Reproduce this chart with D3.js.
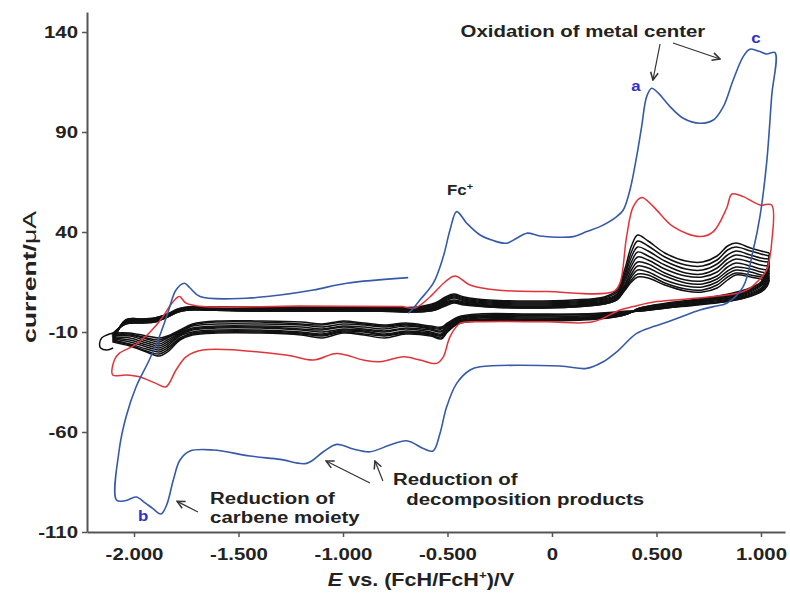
<!DOCTYPE html>
<html>
<head>
<meta charset="utf-8">
<script src="https://cdn.jsdelivr.net/npm/d3@7"></script>
<style>
  body { margin: 0; background: #fff; }
  svg { display: block; font-family: "Liberation Sans", Arial, sans-serif; }
</style>
</head>
<body>
<svg id="chart" width="790" height="596"></svg>
<script>
// axis ticks
const xTicks = [-2, -1.5, -1, -0.5, 0, 0.5, 1];
const yTicks = [-110, -60, -10, 40, 90, 140];

// first cycle (blue), [E / V, current / uA]
const cycle1 = [
  [-0.688, -0.6], [-0.671, 1.0], [-0.632, 6.0], [-0.568, 14.4], [-0.520, 27.7], [-0.488, 41], [-0.456, 50.2],
  [-0.408, 44.4], [-0.344, 38.5], [-0.281, 35.7], [-0.217, 34.4], [-0.169, 36.9], [-0.121, 39.4], [-0.057, 38],
  [0.022, 37.4], [0.102, 37.7], [0.166, 40.2], [0.230, 42.7], [0.310, 47.7], [0.341, 51], [0.373, 61],
  [0.405, 77.7], [0.429, 92.7], [0.453, 107.7], [0.477, 111.9], [0.509, 109.4], [0.565, 102.7], [0.628, 96.9],
  [0.708, 94.4], [0.772, 96], [0.820, 102.7], [0.867, 116], [0.915, 127.7], [0.947, 131.4], [0.995, 130.2],
  [1.027, 129], [1.067, 129.7],
  [1.051, 107.7], [1.027, 74.4], [0.995, 47.7], [0.963, 31], [0.915, 12.7], [0.836, 4.4], [0.772, 2.7],
  [0.708, 1], [0.565, -4.5], [0.485, -7.3], [0.405, -10.7], [0.310, -19.9], [0.245, -24.9], [0.166, -28.2],
  [0.038, -27], [-0.344, -27.4], [-0.392, -29], [-0.456, -35.7], [-0.504, -47.4], [-0.536, -60.7],
  [-0.569, -69.5], [-0.616, -68.2], [-0.695, -64.4], [-0.775, -66.5], [-0.871, -69.9], [-0.951, -68.5],
  [-1.030, -66.2], [-1.094, -69.9], [-1.174, -75.7], [-1.301, -73.7], [-1.445, -72], [-1.621, -69],
  [-1.732, -69.5], [-1.780, -74], [-1.812, -84], [-1.844, -96.5], [-1.871, -101], [-1.911, -98.2],
  [-1.947, -95.4], [-1.990, -92.5], [-2.043, -94.4], [-2.084, -94],
  [-2.071, -69], [-2.038, -52.4], [-1.990, -37.4], [-1.927, -24], [-1.879, -12.4], [-1.839, -0.7],
  [-1.799, 11], [-1.759, 14.4], [-1.732, 12], [-1.684, 7.7], [-1.461, 6.9], [-1.301, 8.5], [-1.142, 11],
  [-0.982, 14.4], [-0.688, 17.2]
];

// second cycle (red)
const cycle2 = [
  [-0.713, 2.7], [-0.656, 2], [-0.584, 7.5], [-0.512, 15], [-0.464, 18], [-0.392, 13.5], [-0.265, 11],
  [-0.025, 10.2], [0.293, 10.2], [0.325, 14.4], [0.357, 37.7], [0.389, 52.7], [0.429, 57.3], [0.485, 52.7],
  [0.580, 42.7], [0.708, 37.7], [0.772, 40.2], [0.836, 52], [0.861, 59], [0.915, 57.7], [0.995, 53.5],
  [1.051, 53.5],
  [1.051, 34.4], [1.038, 25], [1.027, 21], [0.932, 11], [0.772, 7.7], [0.501, 5.2], [0.389, 2.7],
  [0.325, 1], [0.196, -4.9], [-0.025, -4.9], [-0.344, -4.9], [-0.440, -5.7], [-0.488, -12.4],
  [-0.520, -22.4], [-0.552, -25.7], [-0.632, -24], [-0.711, -22.4], [-0.823, -24.9], [-0.903, -24],
  [-1.030, -20.7], [-1.142, -24], [-1.273, -21.5], [-1.671, -19], [-1.751, -22.4], [-1.799, -29],
  [-1.847, -37.4], [-1.895, -35.7], [-1.975, -32.4], [-2.038, -31.5], [-2.102, -31.5],
  [-2.094, -24], [-2.071, -20.7], [-1.995, -16.5], [-1.923, -10], [-1.866, -3], [-1.818, 4.5],
  [-1.783, 7.7], [-1.751, 4.4], [-1.671, 2.7], [-1.206, 3], [-0.713, 2.7]
];

// later cycles (black): potentials of the forward and the reverse sweep
const sweepUpE = [-2.10, -2.04, -1.96, -1.90, -1.84, -1.79, -1.74, -1.65, -1.40, -1.10, -0.85, -0.65, -0.56,
  -0.51, -0.47, -0.42, -0.30, -0.10, 0.10, 0.25, 0.31, 0.35, 0.38, 0.41, 0.46, 0.54, 0.64, 0.72, 0.79, 0.84,
  0.88, 0.95, 1.00, 1.04];
const sweepDownE = [1.04, 1.03, 1.00, 0.92, 0.82, 0.70, 0.55, 0.42, 0.36, 0.30, 0.15, -0.10, -0.35, -0.45,
  -0.50, -0.53, -0.58, -0.70, -0.80, -0.90, -1.00, -1.10, -1.20, -1.40, -1.60, -1.72, -1.78, -1.84, -1.88,
  -1.94, -2.02, -2.10];

const laterUp = [
  [-15, -4, -3.5, -3, -1, 1.5, 2.5, 2.5, 2.5, 2.5, 2.5, 2.5, 4.5, 7.5, 9, 7.5, 6, 5.5, 6, 7.5, 11, 22, 33, 38.5, 35.5, 29.5, 25.5, 25, 28, 33, 34.5, 32, 30.5, 29.5],
  [-14.5, -4, -3.5, -3, -1, 1.5, 2.5, 2.5, 2, 2, 2, 2, 4, 7, 8.5, 7, 5.5, 5, 5.5, 7, 10, 20, 30, 35.5, 33, 27.5, 23.5, 23, 26, 31, 32.5, 30.5, 29, 28],
  [-14, -4.5, -4, -3.5, -1.5, 1, 2, 2, 2, 2, 2, 1.5, 3.5, 6.5, 8, 6.5, 5, 4.5, 5, 6.5, 9, 18.5, 27.5, 32.5, 30.5, 25.5, 21.5, 21, 24, 28.5, 30.5, 28.5, 27, 26.5],
  [-13.5, -4.5, -4, -3.5, -1.5, 1, 2, 2, 1.5, 1.5, 1.5, 1.5, 3, 6, 7.5, 6, 4.5, 4, 4.5, 6, 8.5, 17, 25, 30, 28, 23.5, 19.5, 19, 22, 26.5, 28.5, 27, 25.5, 25],
  [-13, -5, -4.5, -4, -1.5, 1, 2, 1.5, 1.5, 1.5, 1.5, 1, 2.5, 5.5, 7, 5.5, 4, 3.5, 4, 5.5, 8, 15.5, 23, 27.5, 26, 21.5, 18, 17.5, 20, 24.5, 26.5, 25, 23.5, 23],
  [-12.5, -5, -4.5, -4, -2, 0.5, 1.5, 1.5, 1, 1, 1, 1, 2, 5, 6, 5, 3.5, 3, 3.5, 5, 7.5, 14, 21, 25, 24, 19.5, 16, 15.5, 18, 22.5, 24.5, 23, 21.5, 21],
  [-12, -5.5, -5, -4.5, -2, 0.5, 1.5, 1, 1, 1, 1, 0.5, 1.5, 4.5, 5.5, 4.5, 3, 2.5, 3, 4.5, 7, 13, 19, 23, 22, 18, 14.5, 14, 16.5, 20.5, 22.5, 21.5, 20, 19.5],
  [-11.5, -5.5, -5, -4.5, -2.5, 0, 1, 1, 0.5, 0.5, 0.5, 0.5, 1.5, 4, 5, 4, 3, 2.5, 3, 4.5, 6.5, 12, 17.5, 21, 20, 16, 13, 12.5, 15, 19, 21, 20, 18.5, 18],
  [-11, -6, -5.5, -5, -2.5, 0, 1, 1, 0.5, 0.5, 0.5, 0, 1, 3.5, 5, 4, 2.5, 2, 2.5, 4, 6, 11.5, 16, 19, 18.5, 14.5, 11.5, 11, 13.5, 17.5, 19.5, 18.5, 17.5, 17],
  [-10.5, -6, -5.5, -5, -2.5, 0, 1, 1, 0.5, 0.5, 0.5, 0, 1, 3, 4.5, 3.5, 2.5, 2, 2.5, 4, 6, 11, 15, 17.5, 17, 13.5, 10.5, 10, 12, 16, 18.5, 17.5, 16.5, 16]
];
const laterDown = [
  [29.5, 22, 15, 11, 8.5, 6.5, 4.5, 2, -1, -2.5, -4, -4.5, -4.5, -6, -10, -13.5, -12, -11, -13, -11.5, -10.5, -13, -11.5, -10.5, -10.5, -11.5, -14, -20, -22, -20, -17, -15],
  [28, 21, 14.5, 10.5, 8, 6, 4, 2, -1, -2.5, -3.5, -4, -4, -5.5, -9.5, -13, -11.5, -10.5, -12, -11, -10, -12, -11, -10, -10, -11, -13.5, -19, -21, -19.5, -16.5, -14.5],
  [26.5, 20, 14, 10, 7.5, 6, 4, 1.5, -1, -2, -3.5, -4, -4, -5, -9, -12, -11, -10, -11.5, -10, -9.5, -11.5, -10.5, -9.5, -9.5, -10.5, -13, -18, -20, -18.5, -16, -14],
  [25, 19, 13.5, 9.5, 7, 5.5, 3.5, 1.5, -0.5, -2, -3, -3.5, -3.5, -5, -8.5, -11.5, -10.5, -9.5, -11, -9.5, -9, -11, -10, -9, -9, -10, -12, -17, -19, -17.5, -15, -13.5],
  [23, 18, 13, 9, 7, 5, 3, 1, -0.5, -1.5, -3, -3, -3, -4.5, -8, -11, -10, -8.5, -10, -9, -8.5, -10, -9, -8, -8, -9, -11.5, -16, -18, -16.5, -14, -13],
  [21, 17, 12, 8.5, 6.5, 5, 3, 1, -0.5, -1.5, -2.5, -2.5, -2.5, -4, -7.5, -10, -9, -8, -9.5, -8.5, -7.5, -9, -8.5, -7.5, -7.5, -8.5, -11, -15, -17, -15.5, -13, -12.5],
  [19.5, 16, 11.5, 8, 6, 4.5, 2.5, 1, 0, -1, -2, -2, -2, -3.5, -7, -9.5, -8.5, -7, -8.5, -7.5, -7, -8.5, -7.5, -7, -7, -8, -10.5, -14, -16, -14.5, -12, -12],
  [18, 15, 11, 7.5, 5.5, 4, 2.5, 0.5, 0, -1, -1.5, -1.5, -2, -3, -6.5, -8.5, -8, -6.5, -7.5, -6.5, -6, -7.5, -6.5, -6, -6, -7, -10, -13, -15, -13.5, -11.5, -11.5],
  [17, 14, 10.5, 7, 5, 4, 2, 0.5, 0, -0.5, -1, -1.5, -1.5, -3, -6, -8, -7.5, -6, -7, -6, -5, -6.5, -6, -5, -5, -6.5, -9.5, -12.5, -14, -13, -11, -11],
  [16, 13, 10, 7, 5, 3.5, 2, 0.5, 0.5, 0, -1, -1, -1, -2.5, -5.5, -7.5, -7, -5.5, -6.5, -5.5, -4.5, -6, -5, -4.5, -4.5, -6, -9, -12, -13, -12, -10.5, -10.5]
];
// one later cycle runs a little further negative
const laterTail = [[-2.10, -10.5], [-2.13, -11.5], [-2.155, -13], [-2.165, -16], [-2.16, -18], [-2.13, -19], [-2.10, -18]];

const W = 790, H = 596;
const SX = 1.2; // the lettering of the source is a little wide
const svg = d3.select("#chart");
svg.append("rect").attr("width", W).attr("height", H).attr("fill", "#fff");

const x = d3.scaleLinear().domain([-2.225, 1.115]).range([87, 785]);
const y = d3.scaleLinear().domain([-110, 150]).range([532, 12]);

const line = d3.line()
  .x(d => x(d[0]))
  .y(d => y(d[1]))
  .curve(d3.curveCatmullRom.alpha(0.5));

// black cycles
laterUp.forEach((up, i) => {
  const pts = sweepDownE.map((e, j) => [e, laterDown[i][j]])
    .concat(sweepUpE.map((e, j) => [e, up[j]]));
  svg.append("path")
    .attr("d", line(pts))
    .attr("fill", "none")
    .attr("stroke", "#111")
    .attr("stroke-width", 1.5);
});
svg.append("path")
  .attr("d", line(laterTail))
  .attr("fill", "none")
  .attr("stroke", "#111")
  .attr("stroke-width", 1.5);

svg.append("path")
  .attr("d", line(cycle2))
  .attr("fill", "none")
  .attr("stroke", "#e0343a")
  .attr("stroke-width", 1.5);

svg.append("path")
  .attr("d", line(cycle1))
  .attr("fill", "none")
  .attr("stroke", "#3659a8")
  .attr("stroke-width", 1.6);

// axes
const fmtX = v => v === 0 ? "0" : d3.format(".3f")(v).replace("\u2212", "-");
const fmtY = v => String(v).replace("\u2212", "-");

const gx = svg.append("g")
  .attr("transform", `translate(0,${y(-110)})`)
  .call(d3.axisBottom(x).tickValues(xTicks).tickFormat(fmtX).tickSize(5).tickSizeOuter(0));
const gy = svg.append("g")
  .attr("transform", `translate(${x(-2.225)},0)`)
  .call(d3.axisLeft(y).tickValues(yTicks).tickFormat(fmtY).tickSize(5).tickSizeOuter(0));

[gx, gy].forEach(g => {
  g.select(".domain").attr("stroke", "#555").attr("stroke-width", 2);
  g.selectAll(".tick line").attr("stroke", "#555").attr("stroke-width", 1.5);
  g.selectAll(".tick text")
    .attr("fill", "#222")
    .attr("font-size", 17)
    .attr("font-weight", "bold")
    .attr("font-family", "Liberation Sans, Arial, sans-serif")
    .attr("transform", `scale(${SX},1)`);
});
gx.selectAll(".tick text").attr("dy", "1.15em");
gy.selectAll(".tick text").attr("x", -9 / SX).attr("dy", "0.35em");

// helper: wide bold lettering at a pixel spot
function label(px, py, anchor) {
  return svg.append("text")
    .attr("transform", `translate(${px},${py}) scale(${SX},1)`)
    .attr("text-anchor", anchor)
    .attr("font-weight", "bold")
    .attr("fill", "#222");
}

// axis titles
const xt = label(421, 586, "middle").attr("font-size", 18);
xt.append("tspan").attr("font-style", "italic").text("E");
xt.append("tspan").text(" vs. (FcH/FcH");
xt.append("tspan").attr("font-size", 11).attr("dy", -7).text("+");
xt.append("tspan").attr("dy", 7).text(")/V");

const yt = svg.append("text")
  .attr("transform", "translate(36,277) rotate(-90) scale(1.4,1)")
  .attr("text-anchor", "middle")
  .attr("font-size", 19).attr("font-weight", "bold").attr("fill", "#222");
yt.append("tspan").text("current/");
yt.append("tspan").attr("font-weight", "normal").text("\u03bcA");

// annotations
svg.append("defs").append("marker")
  .attr("id", "ah")
  .attr("viewBox", "0 0 10 10")
  .attr("refX", 9).attr("refY", 5)
  .attr("markerWidth", 8).attr("markerHeight", 8)
  .attr("orient", "auto")
  .append("path")
  .attr("d", "M1,1 L9,5 L1,9")
  .attr("fill", "none")
  .attr("stroke", "#333")
  .attr("stroke-width", 1.6);

const arrows = [
  [[0.517, 134], [0.483, 116]],
  [[0.579, 134.5], [0.804, 126.5]],
  [[-1.694, -100], [-1.794, -94.7]],
  [[-0.871, -85.5], [-1.081, -74.5]],
  [[-0.809, -84.5], [-0.847, -74.5]]
];
arrows.forEach(a => {
  svg.append("line")
    .attr("x1", x(a[0][0])).attr("y1", y(a[0][1]))
    .attr("x2", x(a[1][0])).attr("y2", y(a[1][1]))
    .attr("stroke", "#333").attr("stroke-width", 1.2)
    .attr("marker-end", "url(#ah)");
});

const notes = [
  { t: "Oxidation of metal center", e: 0.148, i: 137.7, anchor: "middle", c: "#222", s: 17 },
  { t: "Reduction of", e: -1.636, i: -96, anchor: "start", c: "#222", s: 17 },
  { t: "carbene moiety", e: -1.636, i: -105.5, anchor: "start", c: "#222", s: 17 },
  { t: "Reduction of", e: -0.761, i: -86.5, anchor: "start", c: "#222", s: 17 },
  { t: "decomposition products", e: -0.697, i: -96.5, anchor: "start", c: "#222", s: 17 },
  { t: "a", e: 0.402, i: 110.5, anchor: "middle", c: "#3030c8", s: 14 },
  { t: "c", e: 0.976, i: 134.5, anchor: "middle", c: "#3030c8", s: 14 },
  { t: "b", e: -1.957, i: -104.5, anchor: "middle", c: "#3030c8", s: 14 }
];
notes.forEach(n => {
  label(x(n.e), y(n.i), n.anchor)
    .attr("font-size", n.s)
    .attr("fill", n.c)
    .text(n.t);
});

const fc = label(x(-0.44), y(58.5), "middle").attr("font-size", 14);
fc.append("tspan").text("Fc");
fc.append("tspan").attr("font-size", 9).attr("dy", -5).text("+");
</script>
</body>
</html>
